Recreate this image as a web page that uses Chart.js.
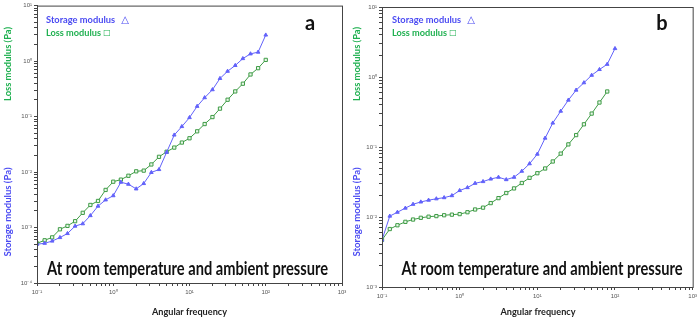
<!DOCTYPE html>
<html>
<head>
<meta charset="utf-8">
<script src="https://cdn.jsdelivr.net/npm/chart.js@4.4.0/dist/chart.umd.min.js"></script>
<style>
  html, body { margin: 0; padding: 0; background: #fff; }
  #wrap { position: relative; width: 700px; height: 317px; }
  .panel { position: absolute; top: 0; width: 350px; height: 317px; }
</style>
</head>
<body>
<div id="wrap">
  <div class="panel" style="left:0"><canvas id="chart-a"></canvas></div>
  <div class="panel" style="left:350px"><canvas id="chart-b"></canvas></div>
</div>
<script>
// angular frequency (10 points per decade)
const freq = [0.1, 0.126, 0.158, 0.2, 0.251, 0.316, 0.398, 0.501, 0.631, 0.794,
  1, 1.26, 1.58, 2, 2.51, 3.16, 3.98, 5.01, 6.31, 7.94,
  10, 12.6, 15.8, 20, 25.1, 31.6, 39.8, 50.1, 63.1, 79.4, 100]

// panel a
const storageA = [5.0e-4, 5.2e-4, 5.7e-4, 6.6e-4, 7.8e-4, 1.06e-3, 1.17e-3, 1.64e-3, 2.43e-3, 3.15e-3,
  3.75e-3, 6.56e-3, 6.04e-3, 4.97e-3, 6.21e-3, 9.84e-3, 1.11e-2, 2.27e-2, 4.65e-2, 6.61e-2,
  9.59e-2, 0.153, 0.219, 0.305, 0.486, 0.656, 0.834, 1.11, 1.35, 1.45, 2.95]
const lossA = [5.18e-4, 5.89e-4, 6.64e-4, 9.29e-4, 1.07e-3, 1.30e-3, 1.84e-3, 2.55e-3, 3.01e-3, 4.76e-3,
  6.70e-3, 7.30e-3, 8.57e-3, 1.03e-2, 1.06e-2, 1.37e-2, 1.88e-2, 2.32e-2, 2.76e-2, 3.40e-2,
  4.06e-2, 5.42e-2, 7.33e-2, 9.79e-2, 0.139, 0.201, 0.284, 0.391, 0.574, 0.745, 1.05]

// panel b
const storageB = [4.7e-3, 1.03e-2, 1.17e-2, 1.34e-2, 1.52e-2, 1.64e-2, 1.74e-2, 1.82e-2, 1.89e-2, 2.02e-2,
  2.39e-2, 2.63e-2, 3.03e-2, 3.21e-2, 3.49e-2, 3.70e-2, 3.42e-2, 3.70e-2, 4.51e-2, 5.77e-2,
  7.91e-2, 0.134, 0.220, 0.325, 0.468, 0.650, 0.828, 1.06, 1.28, 1.52, 2.55]
const lossB = [4.7e-3, 6.73e-3, 7.62e-3, 8.53e-3, 9.20e-3, 9.74e-3, 1.01e-2, 1.03e-2, 1.06e-2, 1.08e-2,
  1.10e-2, 1.17e-2, 1.28e-2, 1.36e-2, 1.58e-2, 1.86e-2, 2.20e-2, 2.56e-2, 3.06e-2, 3.63e-2,
  4.22e-2, 4.93e-2, 6.21e-2, 8.04e-2, 0.109, 0.148, 0.211, 0.300, 0.432, 0.621]

// tick labels (by exponent)
const xTickLabels = { '-1': '10⁻¹', '0': '10⁰', '1': '10¹', '2': '10²', '3': '10³' }
const yTickLabels = { '-4': '10⁻⁴', '-3': '10⁻³', '-2': '10⁻²', '-1': '10⁻¹', '0': '10⁰', '1': '10¹' }

const blueLine = '#6262fa'
const blueText = '#4a4af2'
const greenLine = '#3f9c46'
const greenText = '#1fb050'

const logTicks = (min, max) => {
  const out = []
  for (let e = Math.round(Math.log10(min)); e < Math.round(Math.log10(max)); e++) {
    for (let m = 1; m < 10; m++) out.push({ value: m * Math.pow(10, e) })
  }
  out.push({ value: max })
  return out
}

const majorLabel = (labels) => (v) => {
  const e = Math.log10(v)
  if (Math.abs(e - Math.round(e)) > 1e-6) return ''
  return labels[String(Math.round(e))] || ''
}

function fitText(ctx, text, x, y, w, font, color, rotate) {
  ctx.save()
  ctx.font = font
  ctx.fillStyle = color
  ctx.textAlign = 'center'
  ctx.textBaseline = 'middle'
  const m = ctx.measureText(text).width
  ctx.translate(x, y)
  if (rotate) ctx.rotate(-Math.PI / 2)
  if (w) ctx.scale(w / m, 1)
  ctx.fillText(text, 0, 0)
  ctx.restore()
}

function makePanel(id, storage, loss, yMin, opt) {
  const textPlugin = {
    id: 'panelText',
    afterDraw(chart) {
      const ctx = chart.ctx
      const a = chart.chartArea
      // box frame
      ctx.save()
      ctx.strokeStyle = '#444'
      ctx.lineWidth = 1
      ctx.strokeRect(a.left + 0.5, a.top + 0.5, a.right - a.left, a.bottom - a.top)
      ctx.restore()

      const L = opt.legendX
      fitText(ctx, 'Storage modulus', L + 34.5, 20, 69, 'bold 10px Lato', blueText)
      fitText(ctx, '△', L + 79, 20, 0, '10px "DejaVu Sans"', blueText)
      fitText(ctx, 'Loss modulus', L + 27.5, 33, 55, 'bold 10px Lato', greenText)
      fitText(ctx, '□', L + 61, 33, 0, '8px "DejaVu Sans"', greenText)

      fitText(ctx, opt.letter, opt.letterX, 24, 0, 'bold 20px Lato', '#111')
      fitText(ctx, 'At room temperature and ambient pressure', opt.captionX, 269, 281, 'bold 18px Lato', '#111')
      fitText(ctx, 'Angular frequency', opt.xTitleX, 312, 75, 'bold 9px Lato', '#222')

      fitText(ctx, 'Storage modulus (Pa)', opt.yTitleX, 212, 89, 'bold 9px Lato', blueText, true)
      fitText(ctx, 'Loss modulus (Pa)', opt.yTitleX, 64, 74, 'bold 9px Lato', greenText, true)
    }
  }

  return new Chart(document.getElementById(id), {
    type: 'line',
    data: {
      datasets: [
        {
          label: 'Storage modulus',
          data: storage.map((v, i) => ({ x: freq[i], y: v })),
          borderColor: blueLine,
          backgroundColor: blueLine,
          borderWidth: 1,
          pointStyle: 'triangle',
          pointRadius: 2.1,
          pointBorderWidth: 1
        },
        {
          label: 'Loss modulus',
          data: loss.map((v, i) => ({ x: freq[i], y: v })),
          borderColor: greenLine,
          backgroundColor: '#eaf6ea',
          borderWidth: 1,
          pointStyle: 'rect',
          pointRadius: 2.3,
          pointBorderWidth: 1
        }
      ]
    },
    options: {
      responsive: true,
      maintainAspectRatio: false,
      animation: false,
      layout: { padding: opt.padding },
      plugins: { legend: { display: false }, tooltip: { enabled: false } },
      scales: {
        x: {
          type: 'logarithmic',
          min: 0.1,
          max: 1000,
          afterBuildTicks: s => { s.ticks = logTicks(0.1, 1000) },
          afterFit: s => { s.height = opt.xAxisH },
          ticks: { autoSkip: false, maxRotation: 0, padding: 3, color: '#555', font: { size: 6 }, callback: majorLabel(xTickLabels) },
          grid: { drawOnChartArea: false, tickLength: 3, color: '#444' },
          border: { color: '#444' }
        },
        y: {
          type: 'logarithmic',
          min: yMin,
          max: 10,
          afterBuildTicks: s => { s.ticks = logTicks(yMin, 10) },
          afterFit: s => { s.width = opt.yAxisW },
          ticks: { autoSkip: false, padding: 2, color: '#555', font: { size: 6 }, callback: majorLabel(yTickLabels) },
          grid: { drawOnChartArea: false, tickLength: 3, color: '#444' },
          border: { color: '#444' }
        }
      }
    },
    plugins: [textPlugin]
  })
}

makePanel('chart-a', storageA, lossA, 1e-4, {
  padding: { top: 5, right: 8, left: 0, bottom: 0 },
  yAxisW: 37, xAxisH: 34,
  legendX: 46, letter: 'a', letterX: 310,
  captionX: 187.5, xTitleX: 189.5, yTitleX: 8
})

makePanel('chart-b', storageB, lossB, 1e-3, {
  padding: { top: 7, right: 6, left: 0, bottom: 0 },
  yAxisW: 32, xAxisH: 30,
  legendX: 42, letter: 'b', letterX: 312,
  captionX: 192, xTitleX: 188, yTitleX: 7
})
</script>
</body>
</html>
